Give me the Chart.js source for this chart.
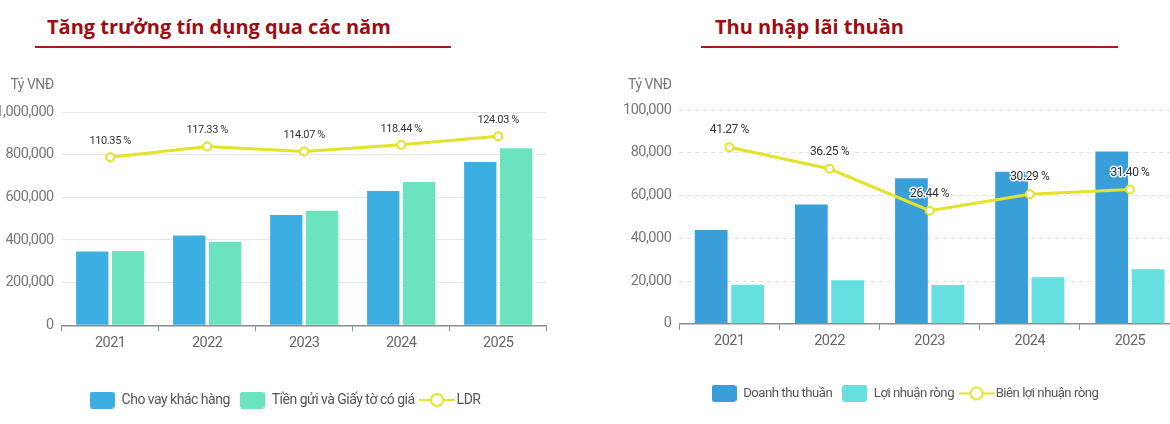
<!DOCTYPE html>
<html>
<head>
<meta charset="utf-8">
<script src="https://cdn.jsdelivr.net/npm/chart.js@4/dist/chart.umd.min.js"></script>
<style>
  html, body { margin: 0; padding: 0; background: #fff; }
  body { width: 1170px; height: 424px; overflow: hidden; position: relative; }
  canvas { position: absolute; top: 0; }
  .title {
    position: absolute; top: 13px; margin: 0;
    font: 700 20px "Open Sans", "Noto Sans", sans-serif;
    color: #9B0D12; white-space: nowrap;
  }
  .rule { position: absolute; top: 46px; height: 2px; background: #A81C1C; }
</style>
</head>
<body>
<div class="title" style="left:47px">Tăng trưởng tín dụng qua các năm</div>
<div class="rule" style="left:35px;width:416px"></div>
<div class="title" style="left:715px">Thu nhập lãi thuần</div>
<div class="rule" style="left:701px;width:417px"></div>

<canvas id="creditChart" width="580" height="417" style="left:-5px"></canvas>
<canvas id="incomeChart" width="610" height="410" style="left:600px"></canvas>

<script>
const years = ['2021', '2022', '2023', '2024', '2025'];

// Tăng trưởng tín dụng (Tỷ VNĐ)
const choVay = [346000, 421000, 517000, 630000, 766000];
const tienGui = [348000, 392000, 537000, 672000, 830000];
const ldr = [110.35, 117.33, 114.07, 118.44, 124.03];

// Thu nhập lãi thuần (Tỷ VNĐ)
const doanhThu = [43900, 55800, 68100, 71100, 80600];
const loiNhuan = [18300, 20400, 18200, 21800, 25500];
const bienLoiNhuan = [41.27, 36.25, 26.44, 30.29, 31.40];

const FONT = 'Roboto, "Liberation Sans", sans-serif';
const SPACING = '-0.5px';
const YELLOW = '#E4E22A';

function boxIcon(color) {
    const c = document.createElement('canvas');
    c.width = 25; c.height = 17;
    const g = c.getContext('2d');
    g.fillStyle = color;
    g.beginPath();
    g.roundRect(0, 0, 25, 17, 3);
    g.fill();
    return c;
}

function lineIcon(color) {
    const c = document.createElement('canvas');
    c.width = 36; c.height = 16;
    const g = c.getContext('2d');
    g.strokeStyle = color;
    g.lineWidth = 2;
    g.beginPath(); g.moveTo(0, 8); g.lineTo(36, 8); g.stroke();
    g.fillStyle = '#fff';
    g.beginPath(); g.arc(18, 8, 6, 0, Math.PI * 2); g.fill(); g.stroke();
    return c;
}

// the original uses a condensed face, so squeeze the text a little
const tightText = {
    id: 'tightText',
    beforeUpdate(chart) { chart.ctx.letterSpacing = SPACING; },
    beforeDraw(chart) { chart.ctx.letterSpacing = SPACING; }
};

// percent labels above the line points
const lineLabels = {
    id: 'lineLabels',
    afterDatasetsDraw(chart, args, opts) {
        const ctx = chart.ctx;
        chart.data.datasets.forEach((ds, i) => {
            if (ds.type !== 'line') return;
            const meta = chart.getDatasetMeta(i);
            ctx.save();
            ctx.font = opts.font;
            ctx.letterSpacing = '-0.4px';
            ctx.textAlign = 'center';
            ctx.textBaseline = 'middle';
            meta.data.forEach((pt, j) => {
                const txt = ds.data[j].toFixed(2) + ' %';
                const y = pt.y - opts.offset;
                if (opts.halo) {
                    ctx.lineWidth = 3;
                    ctx.lineJoin = 'round';
                    ctx.strokeStyle = 'rgba(255,255,255,0.9)';
                    ctx.strokeText(txt, pt.x, y);
                }
                ctx.fillStyle = '#333';
                ctx.fillText(txt, pt.x, y);
            });
            ctx.restore();
        });
    }
};

// "Tỷ VNĐ" above the value axis
const unitLabel = {
    id: 'unitLabel',
    afterDraw(chart, args, opts) {
        const ctx = chart.ctx;
        const s = chart.scales.y;
        ctx.save();
        ctx.font = '14px ' + FONT;
        ctx.fillStyle = '#777';
        ctx.textAlign = 'right';
        ctx.textBaseline = 'middle';
        ctx.fillText('Tỷ VNĐ', s.right - 8, opts.y);
        ctx.restore();
    }
};

function makeChart(id, cfg) {
    const ctx = document.getElementById(id).getContext('2d');
    return new Chart(ctx, {
        data: {
            labels: years,
            datasets: [
                {
                    type: 'line', label: cfg.lineLabel, data: cfg.line, yAxisID: 'y1', order: 0,
                    borderColor: YELLOW, borderWidth: 3, pointRadius: 4, pointBorderWidth: 2,
                    pointBackgroundColor: '#fff', pointBorderColor: YELLOW, tension: 0
                },
                {
                    type: 'bar', label: cfg.barLabels[0], data: cfg.bars[0], yAxisID: 'y', order: 1,
                    backgroundColor: cfg.colors[0], categoryPercentage: cfg.catPct, barPercentage: 0.9
                },
                {
                    type: 'bar', label: cfg.barLabels[1], data: cfg.bars[1], yAxisID: 'y', order: 1,
                    backgroundColor: cfg.colors[1], categoryPercentage: cfg.catPct, barPercentage: 0.9
                }
            ]
        },
        options: {
            responsive: false,
            animation: false,
            layout: { padding: { top: cfg.top, bottom: 0, left: 0, right: 0 } },
            scales: {
                x: {
                    grid: { display: true, drawOnChartArea: false, drawTicks: true, tickLength: 6, color: '#8C8C8C', offset: true },
                    border: { display: true, color: '#8C8C8C', width: 1.5 },
                    ticks: { color: '#666', padding: 3, font: { family: FONT, size: 14.5 } },
                    afterFit: s => { s.height = cfg.xHeight; }
                },
                y: {
                    min: 0, max: cfg.yMax,
                    grid: { color: cfg.gridColor, drawTicks: false },
                    border: { display: false, dash: cfg.gridDash },
                    ticks: {
                        stepSize: cfg.yMax / 5, padding: 8, color: '#777',
                        font: { family: FONT, size: 14.5 },
                        callback: v => v.toLocaleString('en-US')
                    },
                    afterFit: s => { s.width = cfg.yWidth; }
                },
                y1: {
                    position: 'right', min: 0, max: cfg.y1Max,
                    grid: { display: false }, border: { display: false },
                    ticks: { display: false },
                    afterFit: s => { s.width = cfg.y1Width; }
                }
            },
            plugins: {
                tooltip: { enabled: false },
                legend: {
                    position: 'bottom',
                    labels: {
                        usePointStyle: true, pointStyleWidth: 25, padding: 10,
                        color: '#555', font: { family: FONT, size: cfg.legendSize },
                        generateLabels: () => [
                            { text: cfg.barLabels[0], pointStyle: boxIcon(cfg.colors[0]), datasetIndex: 1, fontColor: '#555', lineWidth: 0 },
                            { text: cfg.barLabels[1], pointStyle: boxIcon(cfg.colors[1]), datasetIndex: 2, fontColor: '#555', lineWidth: 0 },
                            { text: cfg.lineLabel, pointStyle: lineIcon(YELLOW), datasetIndex: 0, fontColor: '#555', lineWidth: 0 }
                        ]
                    }
                },
                lineLabels: { font: cfg.labelFont, offset: cfg.labelOffset, halo: cfg.halo },
                unitLabel: { y: 85 }
            }
        },
        plugins: [tightText, lineLabels, unitLabel]
    });
}

makeChart('creditChart', {
    bars: [choVay, tienGui],
    line: ldr,
    barLabels: ['Cho vay khác hàng', 'Tiền gửi và Giấy tờ có giá'],
    lineLabel: 'LDR',
    colors: ['#3DAEE2', '#6CE3BF'],
    catPct: 0.74,
    yMax: 1000000, y1Max: 140,
    top: 112, xHeight: 57.7, yWidth: 66.7, y1Width: 28.3,
    gridColor: '#E3E6EE', gridDash: [],
    legendSize: 14,
    labelFont: '11px ' + FONT, labelOffset: 16, halo: false
});

makeChart('incomeChart', {
    bars: [doanhThu, loiNhuan],
    line: bienLoiNhuan,
    barLabels: ['Doanh thu thuần', 'Lợi nhuận ròng'],
    lineLabel: 'Biên lợi nhuận ròng',
    colors: ['#3A9FD8', '#66DFE0'],
    catPct: 0.727,
    yMax: 100000, y1Max: 50,
    top: 110, xHeight: 53, yWidth: 79.3, y1Width: 30,
    gridColor: '#E2E2E2', gridDash: [4, 4],
    legendSize: 13.2,
    labelFont: '12px ' + FONT, labelOffset: 17, halo: true
});
</script>
</body>
</html>
